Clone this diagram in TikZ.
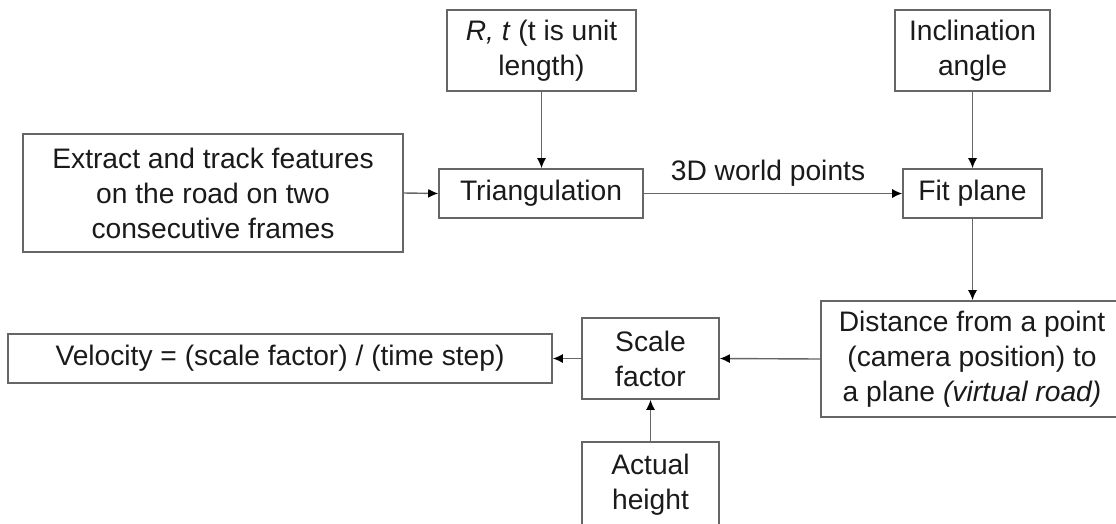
\documentclass[tikz,border=0pt]{standalone}
\usepackage{fontspec}
\setmainfont{Liberation Sans}
\usetikzlibrary{arrows.meta}
\definecolor{boxline}{HTML}{666666}
\definecolor{inktext}{HTML}{1A1A1A}
\begin{document}
\begin{tikzpicture}[x=1pt,y=-1pt,
  txt/.style={text=inktext, font=\fontsize{28.2}{35}\selectfont},
  blk/.style={txt, draw=boxline, line width=1.6pt, inner sep=0pt, align=center},
  link/.style={draw=boxline, line width=1.4pt, -{Latex[length=10pt,width=9pt,color=black]}},
]
\useasboundingbox (0,0) rectangle (1116,523);

% inputs on the top row
\node[blk, minimum width=189pt, minimum height=81pt] (rt) at (541.5,50.5)
  {\textit{R,} \textit{t} (t is unit\\length)};
\node[blk, minimum width=155pt, minimum height=81pt] (incl) at (972.5,50.5)
  {Inclination\\angle};

% main pipeline
\node[blk, minimum width=380pt, minimum height=118pt] (extract) at (213,193)
  {Extract and track features\\on the road on two\\consecutive frames};
\node[blk, minimum width=204pt, minimum height=49pt] (tri) at (541,193.5)
  {Triangulation};
\node[blk, minimum width=139pt, minimum height=49pt] (fit) at (972.5,193.5)
  {Fit plane};
\node[blk, minimum width=302pt, minimum height=116pt] (dist) at (972,359)
  {Distance from a point\\(camera position) to\\a plane \textit{(virtual road)}};
\node[blk, minimum width=137pt, minimum height=81pt] (scale) at (650.5,358.5)
  {Scale\\factor};
\node[blk, minimum width=544pt, minimum height=49pt] (vel) at (280,358.5)
  {Velocity = (scale factor) / (time step)};
\node[blk, minimum width=137pt, minimum height=86pt] (act) at (650.5,485)
  {Actual\\height};

\node[txt, anchor=base] (lbl) at (768,180) {3D world points};

% connectors
\draw[link] (extract.east) -- (tri.west);
\draw[link] (rt.south) -- (rt.south |- tri.north);
\draw[link] (tri.east) -- (fit.west);
\draw[link] (incl.south) -- (incl.south |- fit.north);
\draw[link] (fit.south) -- (fit.south |- dist.north);
\draw[link] (dist.west) -- (scale.east);
\draw[link] (scale.west) -- (vel.east);
\draw[link] (act.north) -- (scale.south);
\end{tikzpicture}
\end{document}
